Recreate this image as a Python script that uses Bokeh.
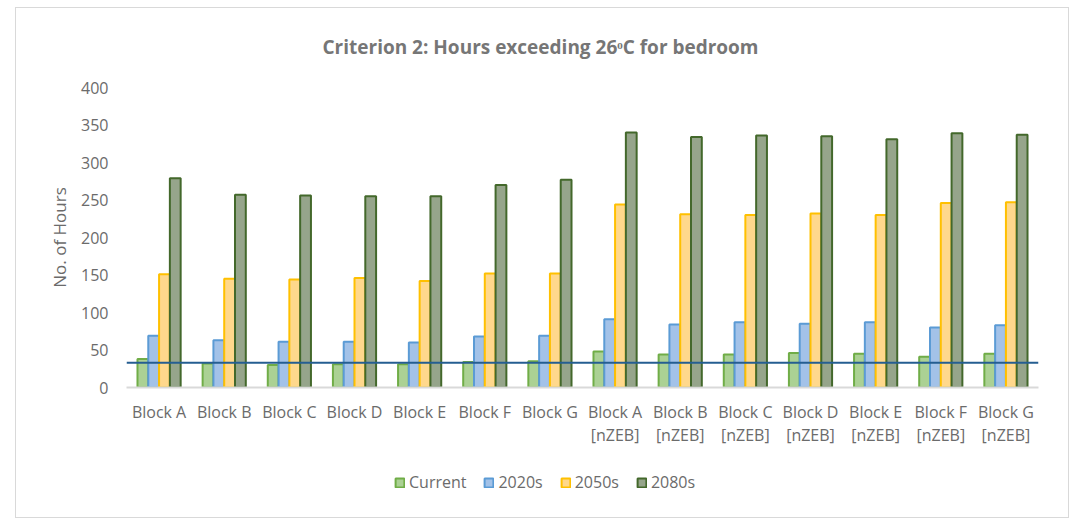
from bokeh.plotting import figure
from bokeh.models import ColumnDataSource, FixedTicker, Span, Range1d
from bokeh.layouts import column
from bokeh.transform import dodge
from bokeh.embed import file_html
from bokeh.resources import INLINE

categories = ["Block A", "Block B", "Block C", "Block D", "Block E", "Block F", "Block G",
              "Block A\n[nZEB]", "Block B\n[nZEB]", "Block C\n[nZEB]", "Block D\n[nZEB]",
              "Block E\n[nZEB]", "Block F\n[nZEB]", "Block G\n[nZEB]"]
current = [38, 32, 30, 31, 31, 34, 35, 48, 44, 44, 46, 45, 41, 45]
s2020 = [69, 63, 61, 61, 60, 68, 69, 91, 84, 87, 85, 87, 80, 83]
s2050 = [151, 145, 144, 146, 142, 152, 152, 244, 231, 230, 232, 230, 246, 247]
s2080 = [279, 257, 256, 255, 255, 270, 277, 340, 334, 336, 335, 331, 339, 337]
series_names = ["Current", "2020s", "2050s", "2080s"]
threshold = 33
y_ticks = [0, 50, 100, 150, 200, 250, 300, 350, 400]

FONT = "Open Sans"
TXT = "#6b6b6b"

src = ColumnDataSource(dict(cat=categories, current=current, s2020=s2020, s2050=s2050, s2080=s2080))

p = figure(x_range=categories, y_range=(0, 400), width=1052, height=455,
           output_backend="svg", toolbar_location=None,
           min_border_left=110, min_border_right=30, min_border_top=79, min_border_bottom=76)
p.x_range.range_padding = 0
p.outline_line_color = None
p.background_fill_color = "white"
p.border_fill_color = "white"

w = 0.1657
fills = ["#abd194", "#a3c2e8", "#ffd88c", "#96a58b"]
lines = ["#70ad47", "#5b9bd5", "#ffc000", "#43682b"]
cols = ["current", "s2020", "s2050", "s2080"]
offs = [-1.5 * w, -0.5 * w, 0.5 * w, 1.5 * w]
for c, o, fc, lc in zip(cols, offs, fills, lines):
    p.vbar(x=dodge("cat", o, range=p.x_range), top=c, width=w, source=src,
           fill_color=fc, line_color=lc, line_width=2)

p.add_layout(Span(location=threshold, dimension="width", line_color="#255e91", line_width=2))

p.title.text = "Criterion 2: Hours exceeding 26\u1d52C for bedroom"
p.title.align = "left"
p.title.offset = 196
p.title.vertical_align = "top"
p.title.text_font = FONT
p.title.text_font_style = "bold"
p.title.text_font_size = "19px"
p.title.text_color = "#767676"
p.title.standoff = 51

p.xgrid.grid_line_color = None
p.ygrid.grid_line_color = None

ax = p.xaxis[0]
ax.axis_line_color = "#d9d9d9"
ax.axis_line_width = 2
ax.major_tick_line_color = None
ax.minor_tick_line_color = None
ax.major_tick_out = 0
ax.major_tick_in = 0
ax.major_label_standoff = 13
ax.major_label_text_font = FONT
ax.major_label_text_font_size = "16px"
ax.major_label_text_line_height = 1.05
ax.major_label_text_color = TXT

ay = p.yaxis[0]
ay.ticker = FixedTicker(ticks=y_ticks)
ay.axis_line_color = None
ay.major_tick_line_color = None
ay.minor_tick_line_color = None
ay.major_tick_out = 0
ay.major_tick_in = 0
ay.major_label_standoff = 18
ay.major_label_text_font = FONT
ay.major_label_text_font_size = "16px"
ay.major_label_text_color = TXT
ay.axis_label = "No. of Hours"
ay.axis_label_text_font = FONT
ay.axis_label_text_font_size = "17px"
ay.axis_label_text_font_style = "normal"
ay.axis_label_text_color = TXT
ay.axis_label_standoff = 7

# legend strip (separate figure so that the legend can sit below the axis);
# its renderers are hidden proxies that only supply the legend swatches
q = figure(x_range=categories, y_range=Range1d(0, 400), width=1052, height=54,
           output_backend="svg", toolbar_location=None, x_axis_type=None, y_axis_type=None,
           min_border_left=0, min_border_right=0, min_border_top=0, min_border_bottom=0)
q.outline_line_color = None
q.background_fill_color = "white"
q.border_fill_color = "white"
for c, o, fc, lc, nm in zip(cols, offs, fills, lines, series_names):
    q.vbar(x=dodge("cat", o, range=q.x_range), top=c, width=w, source=src,
           fill_color=fc, line_color=lc, line_width=2, legend_label=nm, visible=False)

lg = q.legend[0]
lg.orientation = "horizontal"
lg.location = (268, 24)
lg.glyph_width = 11
lg.glyph_height = 11
lg.label_standoff = 4
lg.spacing = 17
lg.padding = 0
lg.margin = 0
lg.border_line_color = None
lg.background_fill_alpha = 0
lg.inactive_fill_alpha = 0
lg.label_text_font = FONT
lg.label_text_font_size = "16px"
lg.label_text_color = TXT

layout = column(p, q, spacing=0, margin=(7, 0, 0, 15),
                styles={"border": "1px solid #d9d9d9", "background": "white"})

open("out.html", "w").write(file_html(layout, INLINE))
